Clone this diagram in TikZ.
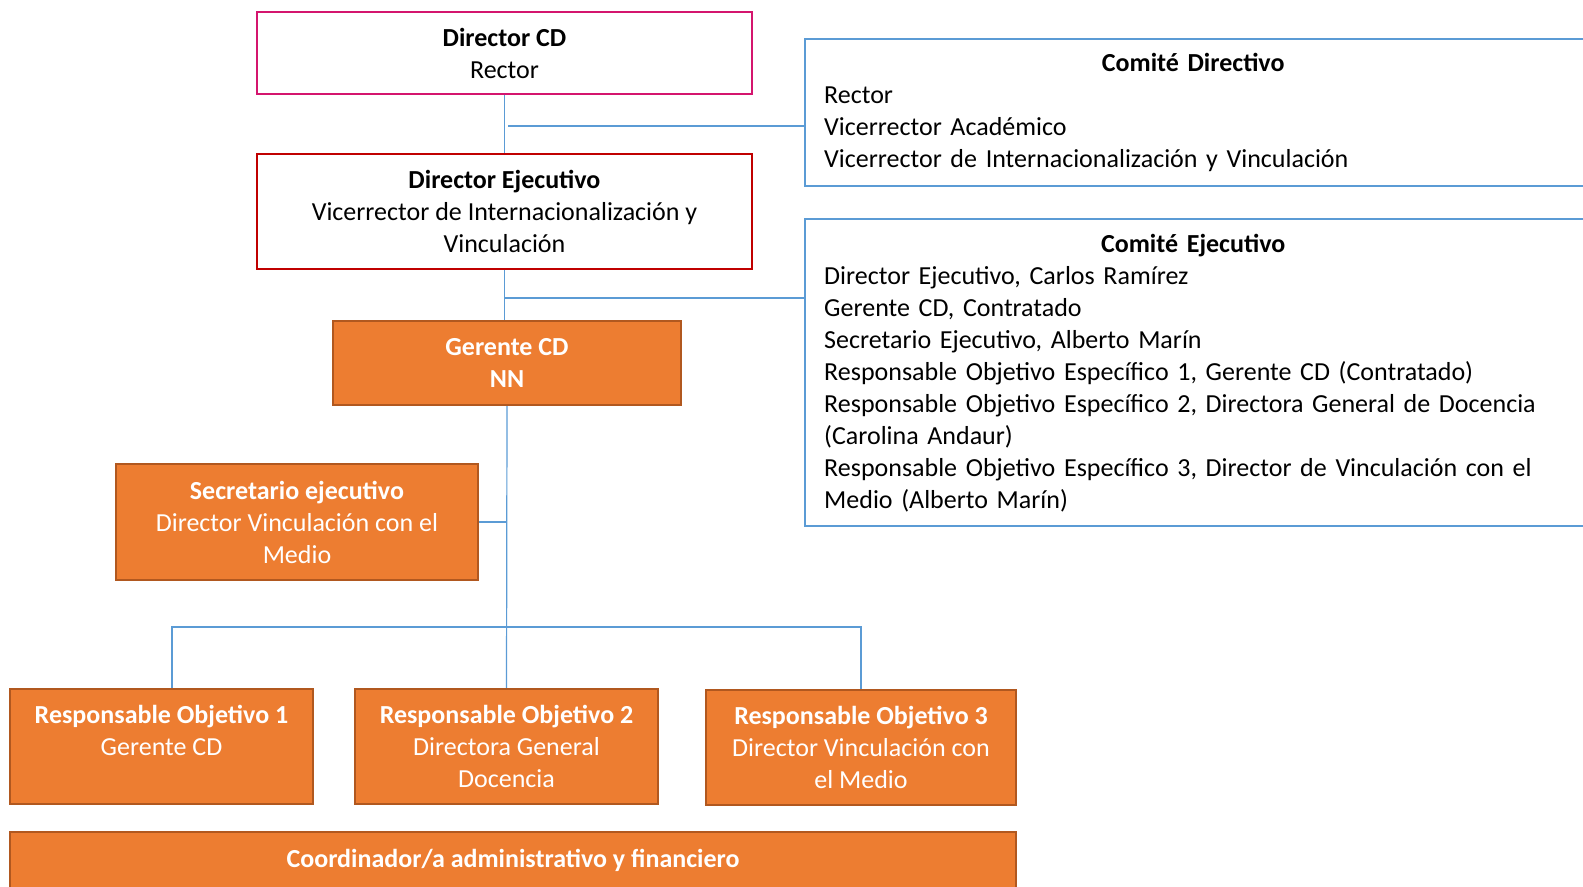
\documentclass[tikz,border=0pt]{standalone}
\usepackage{fontspec}
\setmainfont{Carlito}
\definecolor{naranja}{HTML}{ED7D31}
\definecolor{naranjaosc}{HTML}{B1581F}
\definecolor{rosa}{HTML}{D4156E}
\definecolor{rojo}{HTML}{C00000}
\definecolor{azul}{HTML}{5B9BD5}
\newcommand{\fuente}[0]{\fontsize{13}{16}\selectfont}
\begin{document}
\begin{tikzpicture}[x=0.5pt, y=-0.5pt, font=\fuente]
  \tikzset{
    tam/.style 2 args={minimum width=#1*0.5pt, minimum height=#2*0.5pt},
    caja/.style={draw, line width=1pt, inner sep=0pt, align=center},
    cajarosa/.style={caja, draw=rosa},
    cajaroja/.style={caja, draw=rojo},
    cajanar/.style={caja, line width=1.2pt, draw=naranjaosc, fill=naranja, text=white},
    comite/.style={draw=azul, line width=1.2pt, anchor=north west, inner xsep=9.5pt,
      inner ysep=0pt, text width=410pt, align=left},
    enlace/.style={draw=azul, line width=0.6pt}
  }
  \useasboundingbox (0,0) rectangle (1583,887);
  \clip (0,0) rectangle (1583,887);
  \node[cajarosa, tam={495}{82}] (dircd) at (504.5,53) {\textbf{Director CD}\\Rector};
  \node[cajaroja, tam={495}{115}] (direj) at (504.5,211.5)
    {\textbf{Director Ejecutivo}\\Vicerrector de Internacionalización y\\Vinculación};
  \node[cajanar, tam={348}{84}] (ger) at (507,363) {\textbf{Gerente CD}\\\textbf{NN}};
  \node[cajanar, tam={362}{116}] (sec) at (297,522)
    {\textbf{Secretario ejecutivo}\\Director Vinculación con el\\Medio};
  \node[cajanar, tam={303}{115}] (resp1) at (161.5,746.5)
    {\textbf{Responsable Objetivo 1}\\Gerente CD\\~};
  \node[cajanar, tam={303}{115}] (resp2) at (506.5,746.5)
    {\textbf{Responsable Objetivo 2}\\Directora General\\Docencia};
  \node[cajanar, tam={310}{115}] (resp3) at (861,747.5)
    {\textbf{Responsable Objetivo 3}\\Director Vinculación con\\el Medio};
  \node[cajanar, tam={1006}{56}] (coord) at (513,860)
    {\textbf{Coordinador/a administrativo y financiero}};
  \node[comite, minimum height=73.5pt] (comdir) at (804,38)
    {\makebox[369pt]{\textbf{Comité Directivo}}\\
     Rector\\
     Vicerrector Académico\\
     Vicerrector de Internacionalización y Vinculación};
  \node[comite, minimum height=153.5pt] (comej) at (804,218)
    {\makebox[369pt]{\textbf{Comité Ejecutivo}}\\
     Director Ejecutivo, Carlos Ramírez\\
     Gerente CD, Contratado\\
     Secretario Ejecutivo, Alberto Marín\\
     Responsable Objetivo Específico 1, Gerente CD (Contratado)\\
     Responsable Objetivo Específico 2, Directora General de Docencia\\
     (Carolina Andaur)\\
     Responsable Objetivo Específico 3, Director de Vinculación con el\\
     Medio (Alberto Marín)};
  \coordinate (j1) at (508,126);
  \coordinate (j2) at (505,298);
  \coordinate (bus) at (0,627);
  \draw[enlace] (dircd.south) -- (direj.north);
  \draw[enlace] (j1) -- (j1 -| comdir.west);
  \draw[enlace] (direj.south) -- (direj.south |- ger.north);
  \draw[enlace] (j2) -- (j2 -| comej.west);
  \draw[enlace] (ger.south) -- (resp2.north);
  \draw[enlace] (sec.east) -- (sec.east -| ger.south);
  \draw[enlace] ([xshift=5.25pt]resp1.north) |- (resp3.north |- bus) -- (resp3.north);
\end{tikzpicture}
\end{document}
